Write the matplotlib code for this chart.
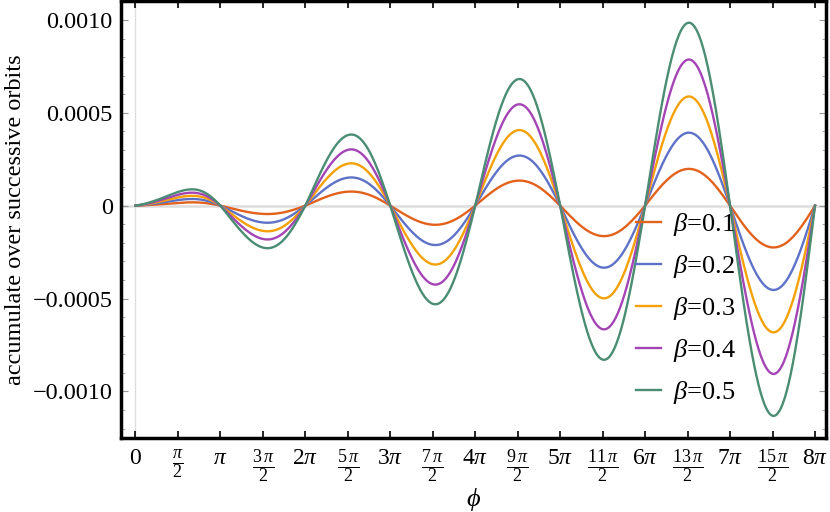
import numpy as np
import matplotlib.pyplot as plt

plt.rcParams['font.family'] = ['Liberation Serif', 'DejaVu Serif']
plt.rcParams['mathtext.fontset'] = 'custom'
plt.rcParams['mathtext.rm'] = 'Liberation Serif'
plt.rcParams['mathtext.it'] = 'Liberation Serif:italic'

# beta values and colours of the curves
betas = [0.1, 0.2, 0.3, 0.4, 0.5]
colors = ['#e2621c', '#5e72c8', '#f4a108', '#a445b6', '#4a8d73']

# extremum of each lobe (between k*pi and (k+1)*pi)
ext_b01 = [0.000018, -0.000045, 0.000076, -0.000103, 0.000135, -0.000164, 0.000198, -0.000225]
ext_b02 = [0.000036, -0.000092, 0.000152, -0.000212, 0.000270, -0.000334, 0.000393, -0.000454]
ext_b03 = [0.000053, -0.000138, 0.000228, -0.000317, 0.000407, -0.000499, 0.000588, -0.000682]
ext_b04 = [0.000070, -0.000182, 0.000303, -0.000425, 0.000546, -0.000666, 0.000787, -0.000906]
ext_b05 = [0.000088, -0.000229, 0.000383, -0.000531, 0.000682, -0.000830, 0.000985, -0.001132]
extrema = [ext_b01, ext_b02, ext_b03, ext_b04, ext_b05]

# phi where each lobe reaches its extremum
peak_pos = [2.09, 4.88, 7.98, 11.09, 14.20, 17.33, 20.47, 23.60]

xtick_labels = [r'$0$', r'$\frac{\pi}{2}$', r'$\pi$', r'$\frac{3\,\pi}{2}$', r'$2\pi$',
                r'$\frac{5\,\pi}{2}$', r'$3\pi$', r'$\frac{7\,\pi}{2}$', r'$4\pi$',
                r'$\frac{9\,\pi}{2}$', r'$5\pi$', r'$\frac{11\,\pi}{2}$', r'$6\pi$',
                r'$\frac{13\,\pi}{2}$', r'$7\pi$', r'$\frac{15\,\pi}{2}$', r'$8\pi$']
ytick_vals = [-0.0010, -0.0005, 0.0, 0.0005, 0.0010]
ytick_labels = ['\u22120.0010', '\u22120.0005', '0', '0.0005', '0.0010']


# smooth bump through the zero crossings and the extremum of each lobe
def lobe_curve(ext_list):
    xs, ys = [], []
    t = np.linspace(0, 1, 120)
    for k, (e, pk) in enumerate(zip(ext_list, peak_pos)):
        p = (pk - k * np.pi) / np.pi
        c = (0.5 - p) / (p * (1 - p))
        u = t + c * t * (1 - t)
        xs.append(k * np.pi + t * np.pi)
        ys.append(e * np.sin(np.pi * u))
    return np.concatenate(xs), np.concatenate(ys)


fig = plt.figure(figsize=(8.3, 5.12), dpi=100)
ax = fig.add_axes([121 / 830, 74 / 512, 705 / 830, 437 / 512])

ax.axhline(0, color='#dddddd', lw=1.8, zorder=1)
ax.axvline(0, color='#dddddd', lw=1.0, zorder=1)

for b, ext, col in zip(betas, extrema, colors):
    x, y = lobe_curve(ext)
    ax.plot(x, y, color=col, lw=1.7, label=r'$\beta$=%.1f' % b, zorder=3)

ax.set_xlim(-0.536, 25.54)
ax.set_ylim(-0.001251, 0.001102)

xt = np.arange(17) * np.pi / 2
ax.set_xticks(xt)
ax.set_xticklabels(xtick_labels, fontsize=17)
# fractions drawn a bit larger so numerator/denominator read like the original
for lab in ax.get_xticklabels():
    if 'frac' in lab.get_text():
        lab.set_fontsize(18.5)
ax.set_yticks(ytick_vals)
ax.set_yticklabels(ytick_labels, fontsize=17.5)
ax.set_yticks(np.arange(-0.0012, 0.00111, 0.0001), minor=True)

ax.tick_params(axis='x', which='major', direction='in', length=5, width=1.2,
               color='black', top=True, bottom=True, pad=7)
ax.tick_params(axis='y', which='major', direction='in', length=5, width=0.8,
               color='#999999', left=True, right=True, pad=6)
ax.tick_params(axis='y', which='minor', direction='in', length=3, width=0.6,
               color='#999999', left=True, right=True)

for s in ax.spines.values():
    s.set_linewidth(2.5)
    s.set_color('black')

ax.set_xlabel(r'$\phi$', fontsize=19)
ax.xaxis.set_label_coords(0.5, -0.11)
ax.set_ylabel('accumulate over successive orbits', fontsize=17.5, labelpad=5)

leg = ax.legend(loc='upper left', bbox_to_anchor=(0.731, 0.52), frameon=False,
                fontsize=19, handlelength=0.95, handletextpad=0.45, labelspacing=0.57,
                borderaxespad=0, borderpad=0)

fig.savefig('out.png', dpi=100)
